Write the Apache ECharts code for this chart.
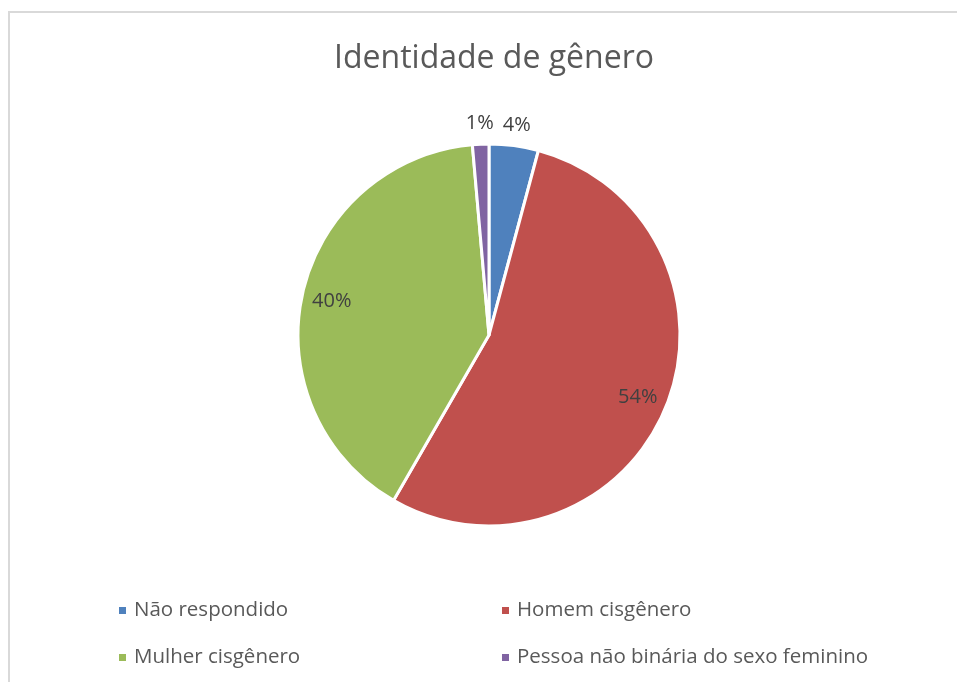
<!DOCTYPE html>
<html>
<head>
<meta charset="utf-8">
<script src="https://cdn.jsdelivr.net/npm/echarts@6/dist/echarts.min.js"></script>
<style>
  html, body { margin: 0; padding: 0; background: #fff; }
  #chart { width: 957px; height: 682px; }
</style>
</head>
<body>
<div id="chart"></div>
<script>
const categories = ["Não respondido", "Homem cisgênero", "Mulher cisgênero", "Pessoa não binária do sexo feminino"];
const counts = [3, 39, 29, 1];
const colors = ["#4f81bd", "#c0504d", "#9bbb59", "#8064a2"];
// which labels sit outside the pie (small slices)
const outsideLabel = [true, false, false, true];

const FONT = "Open Sans";
const textColor = "#404040";

const chart = echarts.init(document.getElementById("chart"));

const baseData = categories.map((name, i) => ({
  name,
  value: counts[i],
  itemStyle: { color: colors[i] },
}));

// transparent helper pies used only to place the percentage labels
const labelSeries = (radius, showOutside) => ({
  type: "pie",
  radius: [0, radius],
  center: [489, 336],
  startAngle: 90,
  clockwise: true,
  silent: true,
  animation: false,
  avoidLabelOverlap: false,
  labelLayout: { hideOverlap: false },
  itemStyle: { color: "transparent", borderWidth: 0 },
  labelLine: { show: false },
  data: categories.map((name, i) => ({
    name,
    value: counts[i],
    label: { show: outsideLabel[i] === showOutside },
  })),
  label: {
    position: "inside",
    formatter: (p) => Math.round(p.percent) + "%",
    fontFamily: FONT,
    fontSize: 20,
    color: textColor,
  },
});

const legendItem = (i, left, top) => ({
  data: [categories[i]],
  left,
  top,
  icon: "rect",
  itemWidth: 9,
  itemHeight: 9,
  itemGap: 0,
  textStyle: { fontFamily: FONT, fontSize: 20.5, color: "#595959", padding: [0, 0, 0, 2] },
  selectedMode: false,
});

const option = {
  animation: false,
  color: colors,
  title: {
    text: "Identidade de gênero",
    left: 489,
    top: 38,
    textAlign: "center",
    textStyle: { fontFamily: FONT, fontSize: 32, fontWeight: "normal", color: "#595959" },
  },
  graphic: [
    {
      type: "rect",
      shape: { x: 9, y: 12, width: 1000, height: 1000 },
      style: { fill: "none", stroke: "#d9d9d9", lineWidth: 2 },
      silent: true,
    },
  ],
  legend: [
    legendItem(0, 112, 595),
    legendItem(1, 495, 595),
    legendItem(2, 112, 642),
    legendItem(3, 495, 642),
  ],
  series: [
    {
      type: "pie",
      name: "Identidade de gênero",
      radius: [0, 191],
      center: [489, 335],
      startAngle: 90,
      clockwise: true,
      itemStyle: { borderColor: "#fff", borderWidth: 3 },
      label: { show: false },
      labelLine: { show: false },
      data: baseData,
    },
    labelSeries(316, false),
    labelSeries(420, true),
  ],
};

chart.setOption(option);
</script>
</body>
</html>
